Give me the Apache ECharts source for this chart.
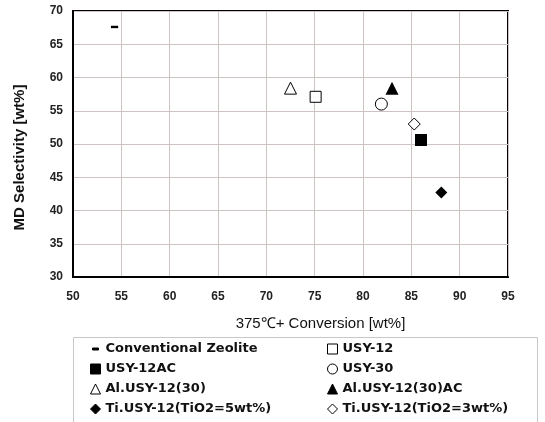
<!DOCTYPE html>
<html>
<head>
<meta charset="utf-8">
<script src="https://cdn.jsdelivr.net/npm/echarts@6/dist/echarts.min.js"></script>
<style>
  html, body { margin: 0; padding: 0; background: #fff; }
  #chart { width: 545px; height: 422px; }
</style>
</head>
<body>
<div id="chart"></div>
<script>
// 各触媒の 375℃+ 転化率 と MD 選択率
var seriesNames = [
    'Conventional Zeolite', 'USY-12', 'USY-12AC', 'USY-30',
    'Al.USY-12(30)', 'Al.USY-12(30)AC', 'Ti.USY-12(TiO2=5wt%)', 'Ti.USY-12(TiO2=3wt%)'
];
var conversion = [54.3, 75.1, 86.0, 81.9, 72.5, 83.0, 88.1, 85.3];
var selectivity = [67.6, 57.1, 50.6, 56.0, 58.4, 58.4, 42.7, 53.0];

var xTicks = [50, 55, 60, 65, 70, 75, 80, 85, 90, 95];
var yTicks = [30, 35, 40, 45, 50, 55, 60, 65, 70];

// 記号 / 塗りつぶし
// ダッシュ記号: 10x10 の枠の中に横棒
var dashPath = 'path://M0,0M10,10M2,4H8V6H2Z';
var symbols = [dashPath, 'rect', 'rect', 'circle', 'triangle', 'triangle', 'diamond', 'diamond'];
var filled = [true, false, true, false, false, true, true, false];
var sizes = [12, 11, 12, 12, 12, 13, 12, 12];

var legendLeft = ['Conventional Zeolite', 'USY-12AC', 'Al.USY-12(30)', 'Ti.USY-12(TiO2=5wt%)'];
var legendRight = ['USY-12', 'USY-30', 'Al.USY-12(30)AC', 'Ti.USY-12(TiO2=3wt%)'];

var myChart = echarts.init(document.getElementById('chart'), null, {renderer: 'canvas'});

var seriesVal = seriesNames.map(function (name, i) {
    return {
        name: name,
        type: 'scatter',
        symbol: symbols[i],
        symbolSize: sizes[i],
        itemStyle: {
            color: filled[i] ? '#000' : '#fff',
            borderColor: '#000',
            borderWidth: filled[i] ? 0 : 1,
            opacity: 1
        },
        data: [[conversion[i], selectivity[i]]]
    };
});

var legendText = {
    fontFamily: 'DejaVu Sans',
    fontSize: 13,
    fontWeight: 'bold',
    color: '#111',
    lineHeight: 14
};

var option = {
    animation: false,
    backgroundColor: '#fff',
    grid: {
        left: 73,
        right: 37,
        top: 11,
        bottom: 145,
        show: true,
        borderColor: '#000',
        borderWidth: 2
    },
    xAxis: {
        type: 'value',
        min: xTicks[0],
        max: xTicks[xTicks.length - 1],
        interval: 5,
        name: '375℃+ Conversion [wt%]',
        nameLocation: 'middle',
        nameGap: 39,
        nameTextStyle: {fontFamily: 'Liberation Sans', fontSize: 15, color: '#111', padding: [0, 0, 0, 60]},
        axisLine: {lineStyle: {color: '#000', width: 2}},
        axisTick: {show: false},
        axisLabel: {margin: 14, fontFamily: 'Liberation Sans', fontSize: 12, fontWeight: 'bold', color: '#222'},
        splitLine: {lineStyle: {color: '#cdc3c3', width: 1}}
    },
    yAxis: {
        type: 'value',
        min: yTicks[0],
        max: yTicks[yTicks.length - 1],
        interval: 5,
        name: 'MD Selectivity [wt%]',
        nameLocation: 'middle',
        nameGap: 46,
        nameTextStyle: {fontFamily: 'Liberation Sans', fontSize: 15, fontWeight: 'bold', color: '#111', padding: [0, 27, 0, 0]},
        axisLine: {lineStyle: {color: '#000', width: 2}},
        axisTick: {show: false},
        axisLabel: {margin: 10, fontFamily: 'Liberation Sans', fontSize: 12, fontWeight: 'bold', color: '#222'},
        splitLine: {lineStyle: {color: '#cdc3c3', width: 1}}
    },
    legend: [
        {
            orient: 'vertical',
            left: 90,
            top: 342,
            padding: 0,
            itemWidth: 10,
            itemHeight: 10,
            itemGap: 6,
            selectedMode: false,
            itemStyle: {borderWidth: 1},
            data: legendLeft,
            textStyle: legendText
        },
        {
            orient: 'vertical',
            left: 327,
            top: 342,
            padding: 0,
            itemWidth: 10,
            itemHeight: 10,
            itemGap: 6,
            selectedMode: false,
            itemStyle: {borderWidth: 1},
            data: legendRight,
            textStyle: legendText
        }
    ],
    graphic: [
        {
            type: 'rect',
            left: 71,
            top: 335,
            shape: {width: 464, height: 86},
            style: {fill: 'none', stroke: '#c8c8c8', lineWidth: 1}
        }
    ],
    series: seriesVal
};

myChart.setOption(option);
</script>
</body>
</html>
